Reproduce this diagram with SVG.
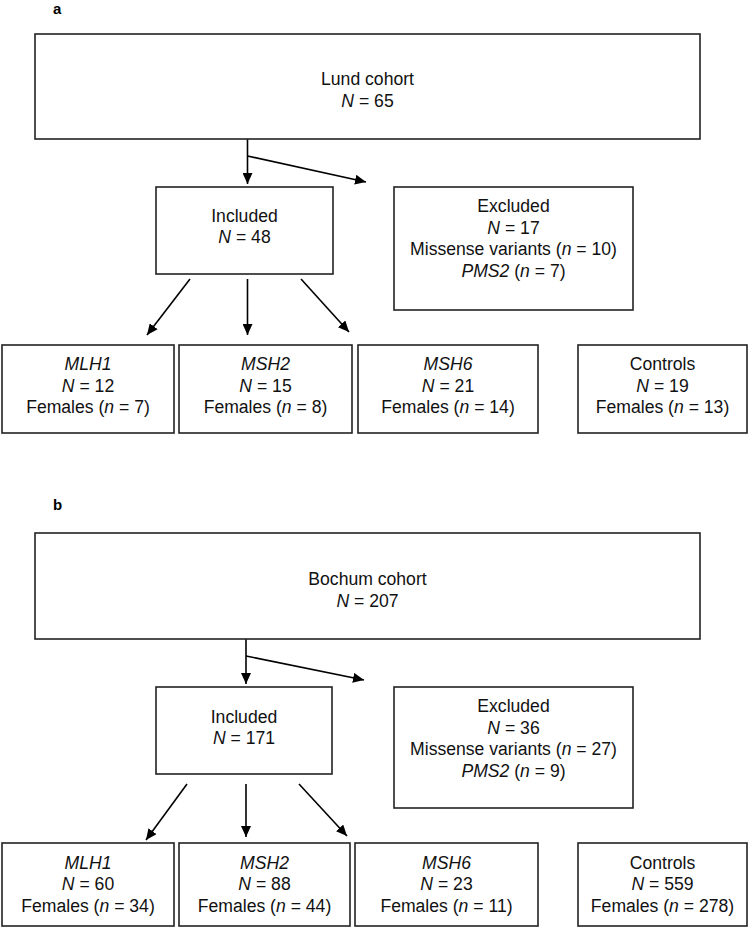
<svg xmlns="http://www.w3.org/2000/svg" width="751" height="927" viewBox="0 0 751 927">
<defs>
<marker id="ah" markerUnits="userSpaceOnUse" markerWidth="11" markerHeight="10" refX="11" refY="5" orient="auto">
<path d="M0,0 L11,5 L0,10 z" fill="#000"/>
</marker>
<style>
.box{fill:#fff;stroke:#222;stroke-width:1.6}
.t{font-family:"Liberation Sans",Arial,sans-serif;font-size:17.6px;fill:#111;text-anchor:middle}
.i{font-style:italic}
.lbl{font-family:"Liberation Sans",Arial,sans-serif;font-size:15px;font-weight:bold;fill:#000}
.ca{stroke:#000;stroke-width:1.6;fill:none;marker-end:url(#ah)}
</style>
</defs>
<rect width="751" height="927" fill="#fff"/>

<text class="lbl" x="53" y="14">a</text>
<text class="lbl" x="53" y="510">b</text>

<g id="connectors">
<line class="ca" x1="247.5" y1="139" x2="247.5" y2="184"/>
<line class="ca" x1="247.5" y1="156" x2="366" y2="182"/>
<line class="ca" x1="190" y1="279" x2="147" y2="335"/>
<line class="ca" x1="247.5" y1="279" x2="247.5" y2="335"/>
<line class="ca" x1="301" y1="279" x2="349" y2="332"/>

<line class="ca" x1="246" y1="639" x2="246" y2="684"/>
<line class="ca" x1="246" y1="656" x2="364" y2="680"/>
<line class="ca" x1="187" y1="784" x2="146" y2="840"/>
<line class="ca" x1="246" y1="784" x2="246" y2="837"/>
<line class="ca" x1="299" y1="784" x2="347" y2="836"/>
</g>

<g id="lund">
<rect class="box" x="35" y="34" width="665" height="105"/>
<text class="t" x="367.5" y="85">Lund cohort</text>
<text class="t" x="367.5" y="106.5"><tspan class="i">N</tspan> = 65</text>
</g>
<g id="included-a">
<rect class="box" x="156" y="187" width="177" height="87"/>
<text class="t" x="244.5" y="221.5">Included</text>
<text class="t" x="244.5" y="243"><tspan class="i">N</tspan> = 48</text>
</g>
<g id="excluded-a">
<rect class="box" x="394" y="187" width="239" height="123"/>
<text class="t" x="513.5" y="212">Excluded</text>
<text class="t" x="513.5" y="233.5"><tspan class="i">N</tspan> = 17</text>
<text class="t" x="513.5" y="255">Missense variants (<tspan class="i">n</tspan> = 10)</text>
<text class="t" x="513.5" y="276.5"><tspan class="i">PMS2</tspan> (<tspan class="i">n</tspan> = 7)</text>
</g>
<g id="mlh1-a">
<rect class="box" x="2" y="345" width="172" height="88"/>
<text class="t" x="88" y="370" font-style="italic">MLH1</text>
<text class="t" x="88" y="391.5"><tspan class="i">N</tspan> = 12</text>
<text class="t" x="88" y="413">Females (<tspan class="i">n</tspan> = 7)</text>
</g>
<g id="msh2-a">
<rect class="box" x="179" y="345" width="173" height="88"/>
<text class="t" x="265.5" y="370" font-style="italic">MSH2</text>
<text class="t" x="265.5" y="391.5"><tspan class="i">N</tspan> = 15</text>
<text class="t" x="265.5" y="413">Females (<tspan class="i">n</tspan> = 8)</text>
</g>
<g id="msh6-a">
<rect class="box" x="358" y="345" width="180" height="88"/>
<text class="t" x="448" y="370" font-style="italic">MSH6</text>
<text class="t" x="448" y="391.5"><tspan class="i">N</tspan> = 21</text>
<text class="t" x="448" y="413">Females (<tspan class="i">n</tspan> = 14)</text>
</g>
<g id="controls-a">
<rect class="box" x="578" y="345" width="169" height="88"/>
<text class="t" x="662.5" y="370">Controls</text>
<text class="t" x="662.5" y="391.5"><tspan class="i">N</tspan> = 19</text>
<text class="t" x="662.5" y="413">Females (<tspan class="i">n</tspan> = 13)</text>
</g>

<g id="bochum">
<rect class="box" x="35" y="533" width="665" height="106"/>
<text class="t" x="367.5" y="585">Bochum cohort</text>
<text class="t" x="367.5" y="606.5"><tspan class="i">N</tspan> = 207</text>
</g>
<g id="included-b">
<rect class="box" x="156" y="687" width="176" height="87"/>
<text class="t" x="244" y="722.5">Included</text>
<text class="t" x="244" y="744"><tspan class="i">N</tspan> = 171</text>
</g>
<g id="excluded-b">
<rect class="box" x="394" y="687" width="239" height="121"/>
<text class="t" x="513.5" y="712">Excluded</text>
<text class="t" x="513.5" y="733.5"><tspan class="i">N</tspan> = 36</text>
<text class="t" x="513.5" y="755">Missense variants (<tspan class="i">n</tspan> = 27)</text>
<text class="t" x="513.5" y="776.5"><tspan class="i">PMS2</tspan> (<tspan class="i">n</tspan> = 9)</text>
</g>
<g id="mlh1-b">
<rect class="box" x="2" y="843" width="172" height="83"/>
<text class="t" x="88" y="868.5" font-style="italic">MLH1</text>
<text class="t" x="88" y="890"><tspan class="i">N</tspan> = 60</text>
<text class="t" x="88" y="911.5">Females (<tspan class="i">n</tspan> = 34)</text>
</g>
<g id="msh2-b">
<rect class="box" x="179" y="843" width="171" height="83"/>
<text class="t" x="264.5" y="868.5" font-style="italic">MSH2</text>
<text class="t" x="264.5" y="890"><tspan class="i">N</tspan> = 88</text>
<text class="t" x="264.5" y="911.5">Females (<tspan class="i">n</tspan> = 44)</text>
</g>
<g id="msh6-b">
<rect class="box" x="355" y="843" width="183" height="83"/>
<text class="t" x="446.5" y="868.5" font-style="italic">MSH6</text>
<text class="t" x="446.5" y="890"><tspan class="i">N</tspan> = 23</text>
<text class="t" x="446.5" y="911.5">Females (<tspan class="i">n</tspan> = 11)</text>
</g>
<g id="controls-b">
<rect class="box" x="578" y="843" width="169" height="83"/>
<text class="t" x="662.5" y="868.5">Controls</text>
<text class="t" x="662.5" y="890"><tspan class="i">N</tspan> = 559</text>
<text class="t" x="662.5" y="911.5">Females (<tspan class="i">n</tspan> = 278)</text>
</g>
</svg>
